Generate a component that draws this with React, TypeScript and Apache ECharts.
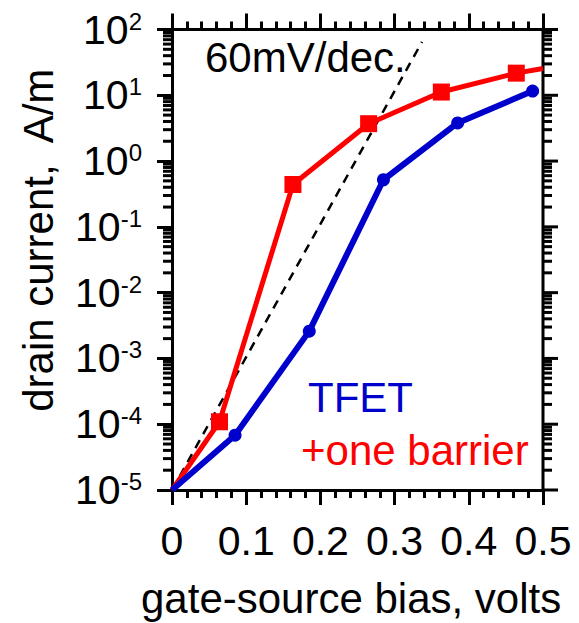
import React, { useEffect, useRef } from "react";
import * as echarts from "echarts";

// ---- data ----
const tfetX = [0, 0.085, 0.185, 0.285, 0.385, 0.486];
const tfetY = [1e-5, 6.8e-5, 2.6e-3, 0.52, 3.8, 11.6];

const barrierX = [0, 0.064, 0.163, 0.265, 0.363, 0.464, 0.5];
const barrierY = [1e-5, 1.09e-4, 0.44, 3.7, 11.2, 21.7, 25.5];

const slopeX = [0, 0.337];
const slopeY = [1e-5, 65];

const xTicks = ["0", "0.1", "0.2", "0.3", "0.4", "0.5"];
const yDecades = [-5, -4, -3, -2, -1, 0, 1, 2];
const yMinorMultipliers = [2, 3, 4, 5, 6, 7, 8, 9];

const FONT = "'Liberation Sans', Arial, Helvetica, sans-serif";
const ls = (w = 3) => ({ color: "#000", width: w });
const titleStyle = (color: string) => ({ fontSize: 42, fontFamily: FONT, fontWeight: "normal", color });

export default function App() {
  const ref = useRef<HTMLDivElement>(null);

  useEffect(() => {
    if (!ref.current) return;
    const chart = echarts.init(ref.current, undefined, { renderer: "svg" });

    // rows for the right-hand axis frame and log minor ticks: [x, value, kind]
    // kind 2 = right axis line, 1 = major tick (right side), 0 = minor tick (both sides)
    const frameRows: number[][] = [[0, yDecades[0], 2].map((v, i) => (i === 1 ? Math.pow(10, v) : v))];
    for (const d of yDecades) frameRows.push([0, Math.pow(10, d), 1]);
    for (let i = 0; i < yDecades.length - 1; i++) {
      for (const m of yMinorMultipliers) frameRows.push([0, m * Math.pow(10, yDecades[i]), 0]);
    }

    const tfetData = tfetX.map((x, i) => ({ value: [x, tfetY[i]], symbol: x === 0 ? "none" : "circle" }));
    const barrierData = barrierX.map((x, i) => ({
      value: [x, barrierY[i]],
      symbol: x === 0 || i === barrierX.length - 1 ? "none" : "rect",
    }));
    const slopeData = slopeX.map((x, i) => [x, slopeY[i]]);

    const option: any = {
      animation: false,
      title: [
        { text: "60mV/dec.", left: 205, top: 36, padding: 0, textStyle: titleStyle("#000") },
        { text: "TFET", left: 308, top: 376, padding: 0, textStyle: titleStyle("#0000cc") },
        { text: "+one barrier", left: 301, top: 429, padding: 0, textStyle: titleStyle("#ff0000") },
        { text: "gate-source bias, volts", left: 141, top: 577, padding: 0, textStyle: titleStyle("#000") },
      ],
      grid: { left: 172, top: 29, width: 371, height: 461 },
      xAxis: [
        {
          type: "value", min: 0, max: 0.5, interval: 0.1, position: "bottom", splitLine: { show: false },
          axisLine: { show: true, onZero: false, lineStyle: ls() },
          axisTick: { show: true, length: 15, lineStyle: ls() },
          minorTick: { show: true, splitNumber: 5, length: 8, lineStyle: ls() },
          axisLabel: {
            margin: 30, fontSize: 41, fontFamily: FONT, color: "#000",
            formatter: (v: number) => xTicks[Math.round(v * 10)] ?? "",
          },
        },
        {
          type: "value", min: 0, max: 0.5, interval: 0.1, position: "top", splitLine: { show: false },
          axisLine: { show: true, onZero: false, lineStyle: ls() },
          axisTick: { show: true, length: 16, lineStyle: ls() },
          minorTick: { show: true, splitNumber: 5, length: 8, lineStyle: ls() },
          axisLabel: { show: false },
        },
      ],
      yAxis: [
        {
          type: "log", logBase: 10, min: 1e-5, max: 1e2, interval: 1, splitLine: { show: false },
          axisLine: { show: true, onZero: false, lineStyle: ls() },
          axisTick: { show: true, length: 15, lineStyle: ls() },
          name: "drain current,  A/m",
          nameLocation: "middle",
          nameGap: 113,
          nameTextStyle: { fontSize: 42, fontFamily: FONT, color: "#000", padding: [0, 0, 0, 39] },
          axisLabel: {
            margin: 30, color: "#000", fontFamily: FONT,
            formatter: (v: number) => `{b|10}{s|${Math.round(Math.log10(v))}}`,
            rich: {
              b: { fontSize: 41, lineHeight: 41, fontFamily: FONT, color: "#000", padding: [9, 0, 0, 0], verticalAlign: "bottom" },
              s: { fontSize: 24, lineHeight: 24, fontFamily: FONT, color: "#000", verticalAlign: "top" },
            },
          },
        },
      ],
      series: [
        { type: "line", data: slopeData, symbol: "none", lineStyle: { color: "#000", width: 2.5, type: [9, 7] } },
        { type: "line", data: barrierData, symbolSize: 17, lineStyle: { color: "#ff0000", width: 5 }, itemStyle: { color: "#ff0000" } },
        { type: "line", data: tfetData, symbolSize: 13, lineStyle: { color: "#0000cc", width: 6 }, itemStyle: { color: "#0000cc" } },
        {
          type: "custom",
          silent: true,
          clip: false,
          data: frameRows,
          encode: { x: 0, y: 1 },
          renderItem: (params: any, api: any) => {
            const v = api.value(1);
            const kind = api.value(2);
            const pl = api.coord([0, v]);
            const pr = api.coord([0.5, v]);
            const st = { stroke: "#000", lineWidth: 3 };
            if (kind === 2) {
              const top = api.coord([0.5, 1e2]);
              return { type: "line", shape: { x1: pr[0], y1: top[1] - 1.5, x2: pr[0], y2: pr[1] + 1.5 }, style: st };
            }
            if (kind === 1) {
              return { type: "line", shape: { x1: pr[0], y1: pr[1], x2: pr[0] + 15, y2: pr[1] }, style: st };
            }
            return {
              type: "group",
              children: [
                { type: "line", shape: { x1: pl[0] - 9, y1: pl[1], x2: pl[0], y2: pl[1] }, style: st },
                { type: "line", shape: { x1: pr[0], y1: pr[1], x2: pr[0] + 9, y2: pr[1] }, style: st },
              ],
            };
          },
        },
      ],
    };

    chart.setOption(option);
    return () => chart.dispose();
  }, []);

  return (
    <div
      ref={ref}
      style={{ position: "fixed", left: 0, top: 0, width: 579, height: 623, background: "#fff" }}
    />
  );
}
